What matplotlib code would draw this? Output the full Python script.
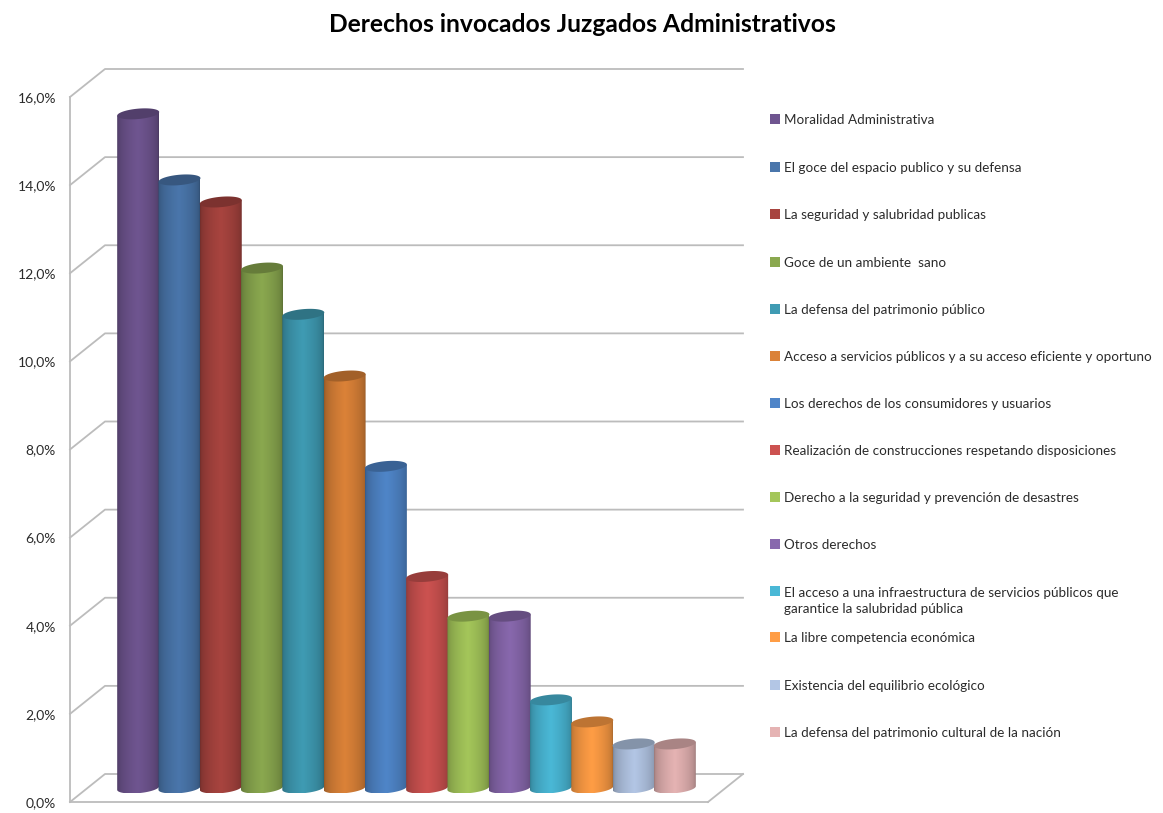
import numpy as np
import matplotlib
matplotlib.use('Agg')
import matplotlib.pyplot as plt
from matplotlib.colors import to_rgb
from matplotlib.patches import Polygon

#Data
labels = ['Moralidad Administrativa',
          'El goce del espacio publico y su defensa',
          'La seguridad y salubridad publicas',
          'Goce de un ambiente  sano',
          'La defensa del patrimonio público',
          'Acceso a servicios públicos y a su acceso eficiente y oportuno',
          'Los derechos de los consumidores y usuarios',
          'Realización de construcciones respetando disposiciones',
          'Derecho a la seguridad y prevención de desastres',
          'Otros derechos',
          'El acceso a una infraestructura de servicios públicos que\ngarantice la salubridad pública',
          'La libre competencia económica',
          'Existencia del equilibrio ecológico',
          'La defensa del patrimonio cultural de la nación']
values = [15.3, 13.8, 13.3, 11.8, 10.75, 9.35, 7.3, 4.8, 3.9, 3.9, 2.0, 1.5, 1.0, 1.0]
colors = ['#6f5590', '#4a76ab', '#a8443f', '#8aa84f', '#3f9bb3', '#db8238', '#4f85c8',
          '#cc5250', '#a4c65a', '#8868ad', '#4ab8d6', '#ff9d45', '#b3c6e5', '#e5b3b3']
yticks = [0, 2, 4, 6, 8, 10, 12, 14, 16]
ytick_labels = ['0,0%', '2,0%', '4,0%', '6,0%', '8,0%', '10,0%', '12,0%', '14,0%', '16,0%']

legend_y = [120, 168, 215, 263, 310, 357, 404, 451, 498, 545, 601, 638, 686, 733]

plt.rcParams['font.family'] = 'Lato'
W, H = 1163, 813
fig = plt.figure(figsize=(W / 100, H / 100), dpi=100)

# Front plane of the 3D box, in pixels 70-708 and 97-802
ax = fig.add_axes([70 / W, 1 - 802 / H, 638 / W, 705 / H])
margin = 30 / 41.2
x0, x1 = -0.5 - margin, 13.5 + margin
px_x = 638 / (x1 - x0)
px_y = 705 / 16
depth_x = 35 / px_x
depth_y = 28 / px_y
grid_color = '#bcbcbc'

# Back wall and floor
for y in yticks:
    ax.plot([x0, x0 + depth_x, x1 + depth_x], [y, y + depth_y, y + depth_y],
            color=grid_color, lw=1.3, clip_on=False, zorder=1)
ax.plot([x1, x1 + depth_x], [0, depth_y], color=grid_color, lw=1.3, clip_on=False, zorder=1)

# Cylinders
t = np.linspace(0, 2 * np.pi, 100)
half_w = 21 / px_x
ell_h = 5.2 / px_y
tilt = 1.8 / px_y
for i, (v, c) in enumerate(zip(values, colors)):
    cx = i + depth_x / 2
    base = depth_y / 2
    top = v + depth_y / 2
    ex = cx + half_w * np.cos(t)
    ey = ell_h * np.sin(t) + tilt * np.cos(t)

    lower = t[(t >= np.pi)]
    body_x = cx + half_w * np.cos(lower)
    body_y = base + ell_h * np.sin(lower) + tilt * np.cos(lower)
    outline = np.column_stack([np.r_[body_x, cx + half_w, cx - half_w],
                               np.r_[body_y, top + tilt, top - tilt]])
    body = Polygon(outline, closed=True, transform=ax.transData)

    # shading across the cylinder
    rgb = np.array(to_rgb(c))
    pos = np.linspace(0, 1, 60)
    shade = 0.68 + 0.32 * np.clip(1 - np.abs(pos - 0.5) * 2, 0, 1) ** 0.45
    img = (rgb[None, None, :] * shade[None, :, None]).clip(0, 1)
    im = ax.imshow(img, extent=[cx - half_w, cx + half_w, base - ell_h, top + ell_h],
                   aspect='auto', zorder=2 + i * 0.1, interpolation='bilinear')
    im.set_clip_path(body)

    ax.add_patch(Polygon(np.column_stack([ex, top + ey]), closed=True,
                         facecolor=rgb * 0.74, edgecolor='none',
                         zorder=2.05 + i * 0.1, clip_on=False))

ax.set_xlim(x0, x1)
ax.set_ylim(0, 16)
ax.set_xticks([])
ax.set_yticks(yticks)
ax.set_yticklabels(ytick_labels, fontsize=10, color='#2b2b2b')
ax.tick_params(axis='y', length=0, pad=10)
ax.patch.set_visible(False)
for side in ['top', 'right']:
    ax.spines[side].set_visible(False)
for side in ['left', 'bottom']:
    ax.spines[side].set_color(grid_color)
    ax.spines[side].set_linewidth(1.3)

fig.text(582.5 / W, 1 - 25 / H, 'Derechos invocados Juzgados Administrativos', fontsize=17.75,
         fontweight='bold', color='black', ha='center', va='center')

# Legend, drawn on an overlay in pixel units
leg = fig.add_axes([0, 0, 1, 1])
leg.set_xlim(0, W)
leg.set_ylim(H, 0)
leg.axis('off')
for lab, c, y in zip(labels, colors, legend_y):
    off = -9 if '\n' in lab else 0
    leg.scatter([775], [y + off - 1], marker='s', s=42, color=c, linewidths=0)
    leg.text(784, y, lab, fontsize=9.7, color='#2b2b2b', va='center', ha='left', linespacing=1.4)

fig.savefig('out.png', dpi=100)
